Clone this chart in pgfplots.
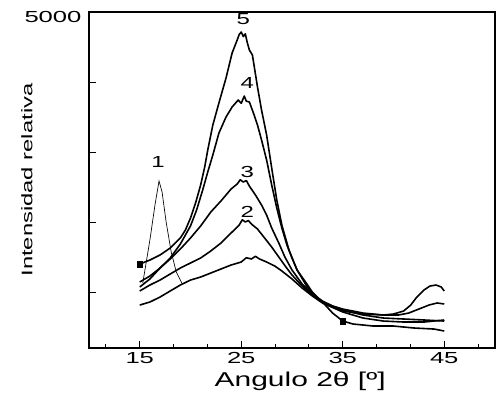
\documentclass[border=0pt]{standalone}
\usepackage{pgfplots}
\pgfplotsset{compat=1.18}
\usepackage{fontspec}
\setmainfont{Liberation Sans}
\usetikzlibrary{calc}
\tikzset{curve/.style={black, no markers, line width=1.2pt, line join=round}}
\begin{document}
\begin{tikzpicture}
\begin{axis}[name=ax,
  scale only axis, width=304.5pt, height=252pt,
  xmin=10, xmax=50, ymin=214, ymax=5000,
  xtick={15,25,35,45},
  minor xtick={11.667,18.333,21.667,28.333,31.667,38.333,41.667,48.333},
  ytick={1000,2000,3000,4000,5000},
  yticklabels={,,,,5000},
  tick align=inside,
  xtick pos=bottom, ytick pos=left,
  major tick length=5pt, minor tick length=3pt,
  tick style={black, line width=0.8pt},
  axis line style={line width=0.9pt},
  /pgf/number format/assume math mode=true,
  tick label style={font=\fontsize{12}{14}\selectfont, xscale=1.6},
  yticklabel style={yshift=-4pt},
  xlabel={Angulo 2θ [º]},
  ylabel={Intensidad relativa},
  xlabel style={font=\fontsize{15}{17}\selectfont, xscale=1.5, at={(rel axis cs:0.52,-0.098)}, anchor=center},
  ylabel style={font=\fontsize{11.5}{13}\selectfont, xscale=1.55, at={(rel axis cs:-0.153,0.5)}, anchor=center},
  clip=false,
]
% curve 5
\addplot[curve] coordinates {(15,1410)(16,1467)(17,1539)(18,1638)(19,1781)(19.5,1895)(20,2065)(20.5,2279)(21,2536)(21.4,2792)(21.7,3034)(22.2,3390)(22.8,3704)(23.5,4060)(24.1,4416)(24.6,4601)(24.8,4680)(25.0,4715)(25.2,4650)(25.4,4690)(25.6,4560)(25.8,4459)(26.1,4387)(26.6,3932)(27.0,3604)(27.5,3248)(28.0,2778)(28.5,2322)(29.0,1966)(29.7,1610)(30.5,1325)(31.4,1140)(32.0,1011)(33.0,869)(34.0,712)(35.0,598)(36,556)(38,527)(40,527)(42,499)(44,484)(45,456)};
% curve 4
\addplot[curve] coordinates {(15,1154)(16,1239)(17,1353)(18,1496)(19,1695)(20,1952)(20.6,2179)(21.2,2464)(21.7,2721)(22.2,2963)(22.8,3276)(23.5,3504)(24.1,3647)(24.7,3746)(25.0,3700)(25.3,3803)(25.5,3730)(25.8,3718)(26.2,3561)(26.6,3390)(27.0,3177)(27.5,2892)(28.0,2536)(28.5,2208)(29.0,1923)(29.5,1681)(30.0,1496)(30.5,1325)(31.5,1083)(32.5,926)(33.5,826)(35,741)(37,698)(39,684)(40,698)(41,741)(41.7,826)(42.3,940)(43,1040)(43.6,1097)(44.2,1111)(44.7,1083)(45,1026)};
% curve 3
\addplot[curve] coordinates {(15,1083)(16,1197)(17,1353)(18,1482)(19,1624)(20,1781)(21,1952)(22,2151)(23,2308)(24,2479)(24.6,2550)(24.9,2610)(25.2,2578)(25.5,2600)(25.8,2521)(26.4,2393)(27,2251)(27.5,2108)(28,1923)(28.7,1709)(29.3,1510)(30,1325)(31,1125)(32,983)(33,883)(34,812)(35,769)(37,712)(39,684)(40.5,684)(41.5,712)(42.5,769)(43.5,826)(44.3,855)(45,841)};
% curve 2
\addplot[curve] coordinates {(15,1026)(16,1111)(17,1182)(18,1268)(19,1353)(20,1425)(21,1496)(22,1596)(23,1709)(24,1852)(24.8,1966)(25.1,2040)(25.4,2009)(25.7,2030)(26,1980)(26.6,1909)(27.3,1781)(28,1652)(28.7,1510)(29.4,1368)(30,1254)(31,1097)(32,969)(33,869)(35,755)(37,684)(39,641)(41,627)(43,613)(45,598)};
% curve 1
\addplot[curve] coordinates {(15,826)(16,869)(17,940)(18,1026)(19,1111)(20,1182)(21,1225)(22,1282)(23,1339)(24,1396)(25,1439)(25.5,1500)(26,1482)(26.4,1520)(26.8,1482)(27.5,1439)(28.3,1382)(29,1311)(30,1197)(31,1068)(32,955)(33,855)(35,727)(37,641)(39,598)(41,584)(43,584)(45,613)};
\addplot[black, line width=0.5pt] coordinates {(15.3,1140)(16.0,1752)(16.5,2251)(16.9,2593)(17.2,2436)(17.6,2009)(18.1,1581)(18.6,1296)(19.2,1125)};
\addplot[black, only marks, mark=square*, mark size=2.2pt] coordinates {(15,1410)(35,598)};
\node[font=\fontsize{12}{14}\selectfont, xscale=1.5] at (axis cs:16.8,2864) {1};
\node[font=\fontsize{12}{14}\selectfont, xscale=1.5] at (axis cs:25.6,2150) {2};
\node[font=\fontsize{12}{14}\selectfont, xscale=1.5] at (axis cs:25.6,2721) {3};
\node[font=\fontsize{12}{14}\selectfont, xscale=1.5] at (axis cs:25.6,3989) {4};
\node[font=\fontsize{12}{14}\selectfont, xscale=1.5] at (axis cs:25.2,4900) {5};
\end{axis}
\useasboundingbox ($(ax.south west)+(-66.75pt,-32.25pt)$) rectangle ($(ax.north east)+(1.5pt,9pt)$);
\end{tikzpicture}
\end{document}
